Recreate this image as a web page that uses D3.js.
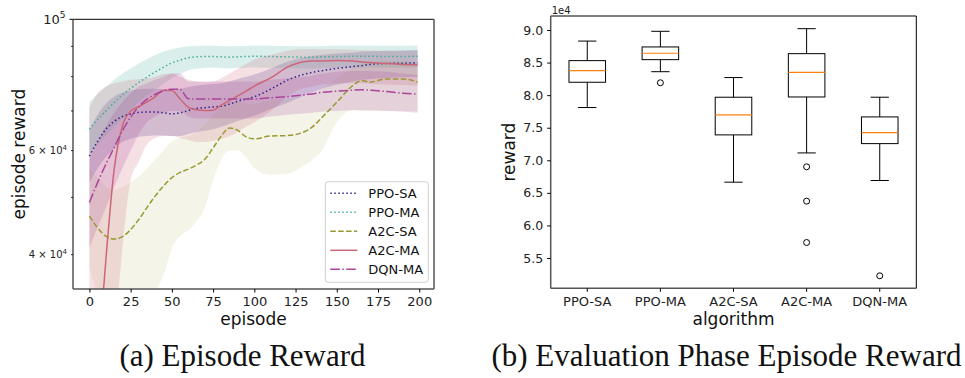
<!DOCTYPE html>
<html>
<head>
<meta charset="utf-8">
<script src="https://cdn.jsdelivr.net/npm/d3@7"></script>
<style>
  html, body { margin: 0; padding: 0; background: #fff; }
  svg { display: block; font-family: "DejaVu Sans", sans-serif; }
</style>
</head>
<body>
<svg id="fig" width="965" height="378"></svg>
<script>
// ---- (a) episode reward, mean and band per algorithm ----
const episodes = [0,5,10,15,20,25,30,35,40,45,50,55,60,65,70,75,80,85,90,95,100,110,120,130,135,140,150,160,165,170,180,190,199];

const ppoSaMean = [58700,62200,65200,67200,68500,69200,69600,69700,69700,69500,69200,69500,70100,70700,70900,71100,71300,71900,72700,73300,74000,76200,78900,80700,81300,81800,82600,83200,83500,83900,84200,84300,84400];
const ppoSaLow  = [53000,56000,58500,60500,62000,62800,63300,63500,63600,63600,63500,63500,64000,64500,64800,65200,65800,66500,67300,68000,68700,70500,72300,74200,75200,76200,77500,78500,79000,79300,79600,79800,79900];
const ppoSaHigh = [65000,69000,72000,74000,75200,75800,76200,76300,76300,76200,76000,76300,76800,77300,77500,77700,78000,78500,79300,80000,80700,82600,84800,86200,86700,87000,87500,87900,88100,88300,88500,88600,88700];

const ppoMaMean = [65200,67700,70000,72300,74500,76400,78200,79900,81500,83000,84400,85300,86100,86400,86500,86500,86400,86300,86400,86500,86600,86500,86400,86300,86300,86400,86500,86600,86600,86600,86500,86500,86600];
const ppoMaLow  = [59000,61500,63500,65800,68000,70300,72500,74300,76000,77800,79500,80800,82000,82500,82700,82800,82700,82600,82700,82800,82900,82800,82700,82600,82600,82700,82800,82900,82900,82900,82800,82800,82900];
const ppoMaHigh = [72500,74800,76800,79000,81000,82600,84200,85700,87000,88200,89000,89600,90000,90200,90200,90200,90100,90000,90100,90200,90300,90200,90100,90000,90000,90100,90200,90300,90300,90300,90200,90200,90300];

const a2cSaMean = [46500,44400,43000,42500,42900,44100,45900,48100,50300,52300,54000,55100,55800,56700,58000,60600,63500,65500,64900,63300,62800,63500,63600,64500,65700,67800,72400,77400,78800,78300,79300,79300,78300];
const a2cSaLow  = [38000,34000,30000,28000,27000,27500,29000,31500,34500,37000,41000,43000,44000,45500,48000,53500,58000,60000,60000,58500,56000,54600,54800,56600,57800,59500,67000,70300,70000,70000,70000,70000,70000];
const a2cSaHigh = [56000,54000,52000,51500,52000,53000,54300,56000,58000,60000,62200,63000,63500,64500,66500,69000,71000,72500,72500,72000,72000,73000,73500,74000,74500,76000,79500,83000,84000,84500,85000,85000,84500];

const a2cMaMean = [18000,26000,39300,55700,66000,69900,71200,72500,74000,75900,75800,73300,71000,70300,70100,70200,71600,72900,74200,75600,77100,79600,83000,84800,85000,85000,85200,85000,84700,84500,84200,83900,83700];
const a2cMaLow  = [10000,12000,17000,28000,41000,53500,57500,61500,63000,63500,63500,63000,62500,62000,62000,62300,62800,63500,64500,65800,67000,70000,74000,76500,77000,77500,78000,78000,78000,77800,77600,77400,77200];
const a2cMaHigh = [71000,75000,77000,78000,78500,79000,79200,79500,80000,80800,81000,80000,79000,78500,78300,78500,79500,81000,82500,84000,85500,87000,88500,89000,89000,89000,89000,88800,88700,88600,88500,88500,88500];

const dqnMaMean = [49000,53000,56900,60700,64800,68300,71200,73300,74700,75700,76200,76100,73400,73300,73300,73300,73300,73300,73300,73300,73300,73700,74000,74500,74800,75200,75600,75900,76000,75900,75500,75000,74700];
const dqnMaLow  = [41000,44500,48000,52000,56000,60000,64000,67000,68500,69500,70000,70000,68500,68000,68000,68000,68000,68000,68000,68000,68000,68500,69000,69300,69500,69800,70000,70200,70200,70200,70000,69800,69500];
const dqnMaHigh = [58000,62000,66000,69500,72500,75000,77000,78000,79000,80000,81000,81000,78500,78500,78500,78500,78500,78500,78500,78500,78500,79000,79500,80000,80300,80800,81500,81800,81800,81800,81500,81000,80500];

const episodeTicks = [0,25,50,75,100,125,150,175,200];

// ---- (b) evaluation phase box plot ----
const algorithms = ["PPO-SA","PPO-MA","A2C-SA","A2C-MA","DQN-MA"];
const whiskerLow  = [78100, 83600, 66640, 71130, 66900];
const quartile1   = [81980, 85450, 73900, 79720, 72560];
const medians     = [83760, 86430, 76960, 83510, 74250];
const quartile3   = [85300, 87400, 79680, 86370, 76660];
const whiskerHigh = [88300, 89800, 82700, 90200, 79680];
const outliers    = [[], [81900], [], [69000, 63730, 57380], [52270]];
const rewardTicks = [55000,60000,65000,70000,75000,80000,85000,90000];

const svg = d3.select("#fig");
svg.append("rect").attr("width", 965).attr("height", 378).attr("fill", "#fff");

// ================= left panel =================
const L = {left: 73, right: 434, top: 19.3, bottom: 289};
const x = d3.scaleLinear().domain([-9.95, 208.95]).range([L.left, L.right]);
const y = d3.scaleLog().domain([35000, 100000]).range([L.bottom, L.top]);

svg.append("defs").append("clipPath").attr("id", "clipL")
  .append("rect")
  .attr("x", L.left).attr("y", L.top)
  .attr("width", L.right - L.left).attr("height", L.bottom - L.top);

const series = [
  {name: "PPO-SA", color: "#332288", dash: "1.5,2.5", alpha: 0.2, mean: ppoSaMean, low: ppoSaLow, high: ppoSaHigh},
  {name: "PPO-MA", color: "#44AA99", dash: "1.5,2.5", alpha: 0.2, mean: ppoMaMean, low: ppoMaLow, high: ppoMaHigh},
  {name: "A2C-SA", color: "#999933", dash: "5.5,2.4", alpha: 0.11, mean: a2cSaMean, low: a2cSaLow, high: a2cSaHigh},
  {name: "A2C-MA", color: "#CC6677", dash: null, alpha: 0.2, mean: a2cMaMean, low: a2cMaLow, high: a2cMaHigh},
  {name: "DQN-MA", color: "#AA4499", dash: "9.6,2.4,1.5,2.4", alpha: 0.2, mean: dqnMaMean, low: dqnMaLow, high: dqnMaHigh}
];

const plot = svg.append("g").attr("clip-path", "url(#clipL)");

const band = d3.area()
  .x(d => x(d.e)).y0(d => y(d.lo)).y1(d => y(d.hi))
  .curve(d3.curveMonotoneX);
const line = d3.line()
  .x(d => x(d.e)).y(d => y(d.m))
  .curve(d3.curveMonotoneX);

series.forEach(s => {
  s.pts = episodes.map((e, i) => ({e: e, m: s.mean[i], lo: s.low[i], hi: s.high[i]}));
  plot.append("path").datum(s.pts)
    .attr("d", band)
    .attr("fill", s.color)
    .attr("fill-opacity", s.alpha);
});
series.forEach(s => {
  plot.append("path").datum(s.pts)
    .attr("d", line)
    .attr("fill", "none")
    .attr("stroke", s.color)
    .attr("stroke-width", 1.5)
    .attr("stroke-dasharray", s.dash);
});

// spines
const spinesL = svg.append("g");
spinesL.append("line").attr("x1", L.left).attr("x2", L.right).attr("y1", L.top).attr("y2", L.top).attr("stroke", "#000").attr("stroke-width", 1);
spinesL.append("line").attr("x1", L.left).attr("x2", L.left).attr("y1", L.top).attr("y2", L.bottom).attr("stroke", "#555").attr("stroke-width", 1.5);
spinesL.append("line").attr("x1", L.right).attr("x2", L.right).attr("y1", L.top).attr("y2", L.bottom).attr("stroke", "#555").attr("stroke-width", 1.5);
spinesL.append("line").attr("x1", L.left).attr("x2", L.right).attr("y1", L.bottom).attr("y2", L.bottom).attr("stroke", "#555").attr("stroke-width", 1.5);

// x axis
const xAxis = svg.append("g")
  .attr("transform", "translate(0," + L.bottom + ")")
  .call(d3.axisBottom(x).tickValues(episodeTicks).tickSize(3.5).tickPadding(4.5).tickFormat(d3.format("d")));
xAxis.select(".domain").remove();
xAxis.selectAll("text").attr("font-size", 13).attr("font-family", "DejaVu Sans").attr("fill", "#222");

svg.append("text")
  .attr("x", (L.left + L.right) / 2).attr("y", 325)
  .attr("text-anchor", "middle").attr("font-size", 17).attr("fill", "#111")
  .text("episode");

// y axis (log)
const yMajor = [100000];
const yMinor = [40000, 50000, 60000, 70000, 80000, 90000];
const yMinorLabelled = [40000, 60000];

const yAx = svg.append("g");
yMajor.forEach(v => {
  yAx.append("line").attr("x1", L.left - 3.5).attr("x2", L.left).attr("y1", y(v)).attr("y2", y(v)).attr("stroke", "#000");
  const t = yAx.append("text").attr("x", L.left - 7.5).attr("y", y(v) + 4.6)
    .attr("text-anchor", "end").attr("font-size", 13).attr("fill", "#222");
  const p = Math.round(Math.log10(v));
  t.append("tspan").text("10");
  t.append("tspan").attr("dy", -6).attr("font-size", 9).text(p);
});
yMinor.forEach(v => {
  yAx.append("line").attr("x1", L.left - 2).attr("x2", L.left).attr("y1", y(v)).attr("y2", y(v)).attr("stroke", "#000").attr("stroke-width", 0.8);
});
yMinorLabelled.forEach(v => {
  const p = Math.floor(Math.log10(v));
  const m = v / Math.pow(10, p);
  const t = yAx.append("text").attr("x", L.left - 6).attr("y", y(v) + 3.5)
    .attr("text-anchor", "end").attr("font-size", 10).attr("fill", "#222");
  t.append("tspan").text(m + " \u00d7 10");
  t.append("tspan").attr("dy", -4.5).attr("font-size", 7).text(p);
});

svg.append("text")
  .attr("transform", "translate(24.6," + ((L.top + L.bottom) / 2) + ") rotate(-90)")
  .attr("text-anchor", "middle").attr("font-size", 17).attr("fill", "#111")
  .text("episode reward");

// legend
const leg = svg.append("g").attr("transform", "translate(325.3,181.7)");
leg.append("rect").attr("width", 103).attr("height", 100.6).attr("rx", 3)
  .attr("fill", "#fff").attr("fill-opacity", 0.8).attr("stroke", "#cfcfcf").attr("stroke-width", 1);
series.forEach((s, i) => {
  const cy = 11.6 + i * 19;
  leg.append("line").attr("x1", 5).attr("x2", 32).attr("y1", cy).attr("y2", cy)
    .attr("stroke", s.color).attr("stroke-width", 1.5).attr("stroke-dasharray", s.dash);
  leg.append("text").attr("x", 43).attr("y", cy + 4.6).attr("font-size", 13).attr("fill", "#111").text(s.name);
});

// ================= right panel =================
const R = {left: 550.7, right: 916.3, top: 16, bottom: 288.3};
const xb = d3.scaleBand().domain(algorithms).range([R.left, R.right]);
const yb = d3.scaleLinear().domain([50350, 92150]).range([R.bottom, R.top]);
const bw = xb.bandwidth();
const cx = a => xb(a) + bw / 2;

const boxes = svg.append("g");
algorithms.forEach((a, i) => {
  const c = cx(a);
  const g = boxes.append("g");
  // whiskers
  g.append("line").attr("x1", c).attr("x2", c).attr("y1", yb(quartile3[i])).attr("y2", yb(whiskerHigh[i])).attr("stroke", "#000");
  g.append("line").attr("x1", c).attr("x2", c).attr("y1", yb(quartile1[i])).attr("y2", yb(whiskerLow[i])).attr("stroke", "#000");
  // caps
  g.append("line").attr("x1", c - bw / 8).attr("x2", c + bw / 8).attr("y1", yb(whiskerHigh[i])).attr("y2", yb(whiskerHigh[i])).attr("stroke", "#000");
  g.append("line").attr("x1", c - bw / 8).attr("x2", c + bw / 8).attr("y1", yb(whiskerLow[i])).attr("y2", yb(whiskerLow[i])).attr("stroke", "#000");
  // box
  g.append("rect")
    .attr("x", c - bw / 4).attr("width", bw / 2)
    .attr("y", yb(quartile3[i])).attr("height", yb(quartile1[i]) - yb(quartile3[i]))
    .attr("fill", "none").attr("stroke", "#000");
  // median
  g.append("line").attr("x1", c - bw / 4).attr("x2", c + bw / 4).attr("y1", yb(medians[i])).attr("y2", yb(medians[i]))
    .attr("stroke", "#ff7f0e").attr("stroke-width", 1.2);
  // fliers
  g.selectAll("circle").data(outliers[i]).enter().append("circle")
    .attr("cx", c).attr("cy", d => yb(d)).attr("r", 3)
    .attr("fill", "none").attr("stroke", "#000").attr("stroke-width", 1);
});

const spinesR = svg.append("g");
spinesR.append("line").attr("x1", R.left).attr("x2", R.right).attr("y1", R.top).attr("y2", R.top).attr("stroke", "#000").attr("stroke-width", 1);
spinesR.append("line").attr("x1", R.right).attr("x2", R.right).attr("y1", R.top).attr("y2", R.bottom).attr("stroke", "#000").attr("stroke-width", 1);
spinesR.append("line").attr("x1", R.left).attr("x2", R.left).attr("y1", R.top).attr("y2", R.bottom).attr("stroke", "#555").attr("stroke-width", 1.5);
spinesR.append("line").attr("x1", R.left).attr("x2", R.right).attr("y1", R.bottom).attr("y2", R.bottom).attr("stroke", "#555").attr("stroke-width", 1.5);

const xbAxis = svg.append("g")
  .attr("transform", "translate(0," + R.bottom + ")")
  .call(d3.axisBottom(xb).tickSize(3.5).tickPadding(4.5));
xbAxis.select(".domain").remove();
xbAxis.selectAll("text").attr("font-size", 13).attr("font-family", "DejaVu Sans").attr("fill", "#222");

const ybAxis = svg.append("g")
  .attr("transform", "translate(" + R.left + ",0)")
  .call(d3.axisLeft(yb).tickValues(rewardTicks).tickSize(3.5).tickPadding(4).tickFormat(d => (d / 1e4).toFixed(1)));
ybAxis.select(".domain").remove();
ybAxis.selectAll("text").attr("font-size", 12.5).attr("font-family", "DejaVu Sans").attr("fill", "#222");

svg.append("text").attr("x", R.left + 1).attr("y", 13.5).attr("font-size", 10).attr("fill", "#222").text("1e4");

svg.append("text")
  .attr("x", (R.left + R.right) / 2).attr("y", 325)
  .attr("text-anchor", "middle").attr("font-size", 17).attr("fill", "#111")
  .text("algorithm");
svg.append("text")
  .attr("transform", "translate(514.6," + ((R.top + R.bottom) / 2) + ") rotate(-90)")
  .attr("text-anchor", "middle").attr("font-size", 17).attr("fill", "#111")
  .text("reward");

// captions
svg.append("text").attr("x", 242.5).attr("y", 366).attr("text-anchor", "middle")
  .attr("font-family", "Liberation Serif, serif").attr("font-size", 31).attr("fill", "#111")
  .text("(a) Episode Reward");
svg.append("text").attr("x", 726.5).attr("y", 366).attr("text-anchor", "middle")
  .attr("font-family", "Liberation Serif, serif").attr("font-size", 31).attr("fill", "#111")
  .text("(b) Evaluation Phase Episode Reward");
</script>
</body>
</html>
